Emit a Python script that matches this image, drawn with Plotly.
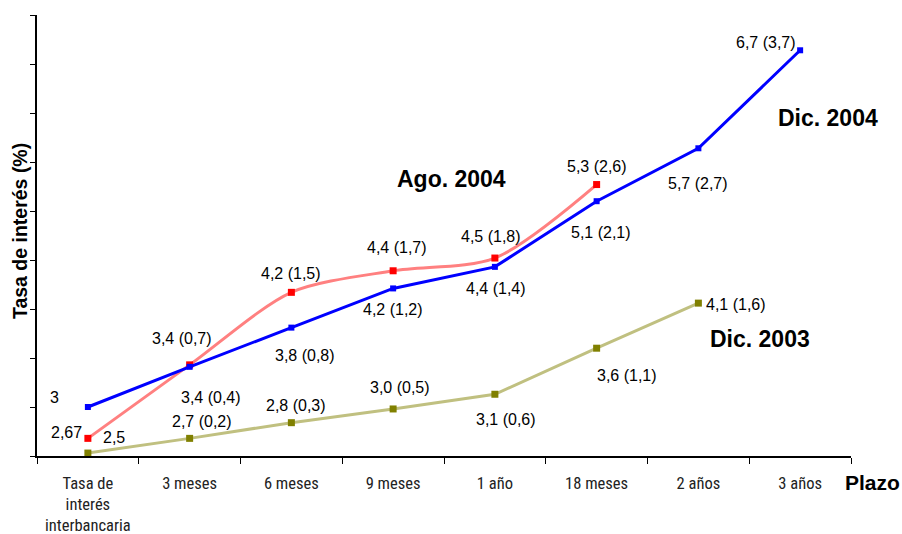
import plotly.graph_objects as go

categories = ["Tasa de<br>interés<br>interbancaria", "3 meses", "6 meses", "9 meses",
              "1 año", "18 meses", "2 años", "3 años"]

dic2004 = [3.0, 3.41, 3.81, 4.21, 4.43, 5.10, 5.64, 6.64]
ago2004 = [2.68, 3.43, 4.17, 4.39, 4.52, 5.27]
dic2003 = [2.53, 2.68, 2.84, 2.98, 3.13, 3.60, 4.06]

dic2004_labels = ["3", "3,4 (0,4)", "3,8 (0,8)", "4,2 (1,2)", "4,4 (1,4)", "5,1 (2,1)", "5,7 (2,7)", "6,7 (3,7)"]
ago2004_labels = ["2,67", "3,4 (0,7)", "4,2 (1,5)", "4,4 (1,7)", "4,5 (1,8)", "5,3 (2,6)"]
dic2003_labels = ["2,5", "2,7 (0,2)", "2,8 (0,3)", "3,0 (0,5)", "3,1 (0,6)", "3,6 (1,1)", "4,1 (1,6)"]

# label offsets in pixels (dx right, dy down)
dic2004_off = [(-33, -10), (21, 31), (14, 28), (0, 21), (1, 22), (4, 31), (0, 35), (-34, -8)]
ago2004_off = [(-21, -6), (-8, -26), (0, -19), (4, -23), (-4, -22), (0, -18)]
dic2003_off = [(26, -16), (12, -17), (5, -17), (7, -21), (11, 25), (30, 27), (38, 1)]

FONT = "Arial, Liberation Sans, sans-serif"

fig = go.Figure()
fig.add_trace(go.Scatter(
    x=categories[:len(ago2004)], y=ago2004, mode="lines+markers",
    line=dict(color="#FF8080", width=3, shape="spline", smoothing=0.8),
    marker=dict(symbol="square", size=7, color="#FF0000"), showlegend=False))
fig.add_trace(go.Scatter(
    x=categories[:len(dic2003)], y=dic2003, mode="lines+markers",
    line=dict(color="#C0C080", width=3),
    marker=dict(symbol="square", size=7, color="#808000"), showlegend=False))
fig.add_trace(go.Scatter(
    x=categories, y=dic2004, mode="lines+markers",
    line=dict(color="#0000FF", width=3),
    marker=dict(symbol="square", size=6, color="#0000FF"), showlegend=False))

annotations = []
for vals, labs, offs in [(dic2004, dic2004_labels, dic2004_off),
                         (ago2004, ago2004_labels, ago2004_off),
                         (dic2003, dic2003_labels, dic2003_off)]:
    for i, (v, t, (dx, dy)) in enumerate(zip(vals, labs, offs)):
        annotations.append(dict(x=i, y=v, xref="x", yref="y", text=t, showarrow=False,
                                xanchor="center", yanchor="middle",
                                xshift=dx, yshift=-dy,
                                font=dict(family=FONT, size=16, color="#000000")))

bold = dict(family=FONT, size=23, color="#000000")
common = dict(xref="paper", yref="paper", showarrow=False, xanchor="center", yanchor="middle")
annotations += [
    dict(x=0.5086, y=0.628, text="<b>Ago. 2004</b>", font=bold, **common),
    dict(x=0.9717, y=0.7664, text="<b>Dic. 2004</b>", font=bold, **common),
    dict(x=0.888, y=0.2653, text="<b>Dic. 2003</b>", font=bold, **common),
    dict(x=1.0258, y=-0.059, text="<b>Plazo</b>",
         font=dict(family=FONT, size=21, color="#000000"), **common),
    dict(x=-0.0209, y=0.51, text="<b>Tasa de interés (%)</b>", textangle=-90,
         font=dict(family=FONT, size=19.5, color="#000000"), **common),
]

fig.update_layout(
    width=902, height=534,
    margin=dict(l=37, r=51, t=15, b=78),
    paper_bgcolor="white", plot_bgcolor="white",
    annotations=annotations,
    xaxis=dict(type="category", categoryorder="array", categoryarray=categories,
               range=[-0.5, 7.5], tickson="boundaries", ticks="outside", ticklen=6,
               tickcolor="#000000", showline=True, linecolor="#000000", linewidth=1.5,
               showgrid=False, zeroline=False, ticklabelstandoff=11, automargin=False,
               tickfont=dict(family="Liberation Sans Narrow, Arial Narrow, Roboto Condensed, DejaVu Sans Condensed, sans-serif",
                             size=16.5, color="#222222")),
    yaxis=dict(range=[2.5, 7.0], dtick=0.5, tick0=2.5, ticks="outside", ticklen=5,
               tickcolor="#000000", showline=True, linecolor="#000000", linewidth=1.5,
               showticklabels=False, showgrid=False, zeroline=False, automargin=False),
)

fig.write_html("out.html", config={"displayModeBar": False},
               post_script="document.body.style.margin='0';document.body.style.overflow='hidden';")
